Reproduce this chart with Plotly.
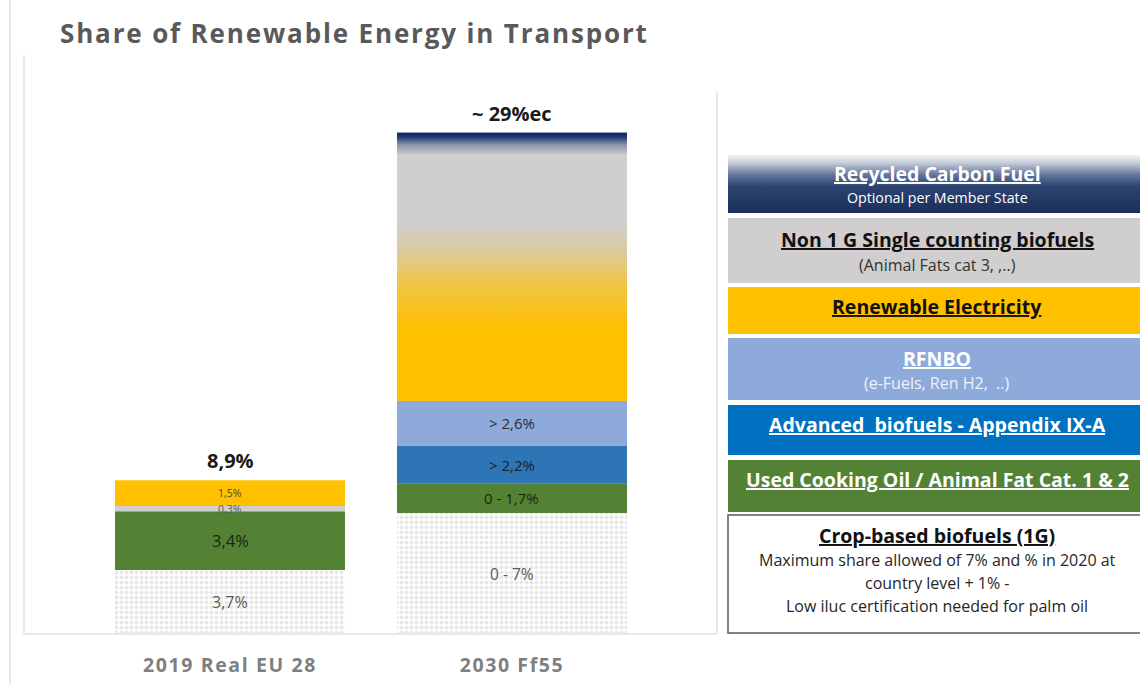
import plotly.graph_objects as go

W, H = 1140, 685
FONT = "Open Sans"

# ---------------- data ----------------
categories = ["2019 Real EU 28", "2030 Ff55"]
crop_based_1g = [3.7, 7.0]
uco_animal_fat = [3.4, 1.7]
advanced_biofuels = [0.0, 2.2]
rfnbo = [0.0, 2.6]
renewable_electricity = [1.5, 7.2]
non_1g_single = [0.3, 7.4]
recycled_carbon_fuel = [0.0, 0.9]

crop_labels = ["3,7%", "0 - 7%"]
uco_labels = ["3,4%", "0 - 1,7%"]
advanced_labels = ["", "> 2,2%"]
rfnbo_labels = ["", "> 2,6%"]
elec_labels = ["1,5%", ""]
non1g_labels = ["0,3%", ""]
rcf_labels = ["", ""]
total_labels = ["8,9%", "~ 29%ec"]

stack_order = [
    ["crop", "uco", "non1g", "elec"],
    ["crop", "uco", "adv", "rfnbo", "elec", "non1g", "rcf"],
]

series = {
    "crop": dict(name="Crop-based biofuels (1G)", values=crop_based_1g, labels=crop_labels,
                 color="#ffffff", fs=[16, 15.5], tc="#595959"),
    "uco": dict(name="Used Cooking Oil / Animal Fat Cat. 1 & 2", values=uco_animal_fat,
                labels=uco_labels, color="#548235", fs=[16.5, 15], tc="#1a2412"),
    "adv": dict(name="Advanced biofuels - Appendix IX-A", values=advanced_biofuels,
                labels=advanced_labels, color="#2e75b6", fs=[15, 15], tc="#18222f"),
    "rfnbo": dict(name="RFNBO", values=rfnbo, labels=rfnbo_labels, color="#8eaadb",
                  fs=[15, 15], tc="#262b35"),
    "elec": dict(name="Renewable Electricity", values=renewable_electricity,
                 labels=elec_labels, color="#ffc000", fs=[10.5, 14], tc="#4a4a2a"),
    "non1g": dict(name="Non 1 G Single counting biofuels", values=non_1g_single,
                  labels=non1g_labels, color="#d0cece", fs=[10.5, 14], tc="#595959"),
    "rcf": dict(name="Recycled Carbon Fuel", values=recycled_carbon_fuel, labels=rcf_labels,
                color="#1f3864", fs=[10, 14], tc="#ffffff"),
}

# ---------------- layout geometry ----------------
BASE_PX, TOP_PX = 634, 55
LEFT_PX, RIGHT_PX = 24, 717
Y_MAX = 33.5
X_RANGE = [-0.7305, 1.727]
BAR_W = 0.8156

# compute bases per bar
bases = {k: [0.0, 0.0] for k in series}
for i, order in enumerate(stack_order):
    cum = 0.0
    for k in order:
        bases[k][i] = cum
        cum += series[k]["values"][i]

fig = go.Figure()
annotations = []

for k, s in series.items():
    xs, ys, bs = [], [], []
    for i in range(len(categories)):
        if k in stack_order[i]:
            xs.append(i)
            ys.append(s["values"][i])
            bs.append(bases[k][i])
    marker = dict(color=s["color"], line=dict(width=0))
    if k == "crop":
        marker["pattern"] = dict(shape=".", fgcolor="#d0d0d0", bgcolor="#ffffff",
                                 size=5, solidity=0.5)
    fig.add_trace(go.Bar(x=xs, y=ys, base=bs, width=BAR_W, name=s["name"],
                         marker=marker, showlegend=False, hoverinfo="skip"))
    for i in range(len(categories)):
        lab = s["labels"][i]
        if lab and k in stack_order[i]:
            annotations.append(dict(
                x=i, y=bases[k][i] + s["values"][i] / 2, xref="x", yref="y",
                text=lab, showarrow=False,
                font=dict(family=FONT, size=s["fs"][i], color=s["tc"])))

# gradient overlay over the upper part of the 2030 bar
g0 = bases["elec"][1]
g1 = bases["rcf"][1] + recycled_carbon_fuel[1]
fig.add_trace(go.Scatter(
    x=[1 - BAR_W / 2, 1 + BAR_W / 2, 1 + BAR_W / 2, 1 - BAR_W / 2, 1 - BAR_W / 2],
    y=[g0, g0, g1, g1, g0], mode="lines", line=dict(width=0), fill="toself",
    fillgradient=dict(type="vertical", start=g0, stop=g1,
                      colorscale=[[0, "#ffc000"], [0.26, "#ffc000"], [0.42, "#f2c43c"],
                                  [0.55, "#dccb9a"], [0.66, "#d0cece"], [0.915, "#d0cece"],
                                  [0.955, "#8a95ae"], [0.985, "#1f3a72"], [1, "#0c2460"]]),
    showlegend=False, hoverinfo="skip"))

# totals
totals = [sum(series[k]["values"][i] for k in stack_order[i]) for i in range(2)]
for i in range(2):
    annotations.append(dict(x=i, y=totals[i], xref="x", yref="y", text="<b>%s</b>" % total_labels[i],
                            showarrow=False, yanchor="bottom", yshift=4,
                            font=dict(family=FONT, size=20, color="#1a1a1a")))

# ---------------- legend panel (pixel coordinates on x2/y2) ----------------
LX0, LX1, LXC = 728, 1148, 937

# recycled carbon fuel gradient box
fig.add_trace(go.Scatter(
    x=[LX0, LX1, LX1, LX0, LX0], y=[155, 155, 213, 213, 155], xaxis="x2", yaxis="y2",
    mode="lines", line=dict(width=0), fill="toself",
    fillgradient=dict(type="vertical", start=155, stop=213,
                      colorscale=[[0, "#f4f5f8"], [0.15, "#c0c7d5"], [0.35, "#60739a"],
                                  [0.55, "#2b4270"], [1, "#1b2f5a"]]),
    showlegend=False, hoverinfo="skip"))

shapes = []
boxes = [
    (218, 283, "#d0cece", None),
    (287, 334, "#ffc000", None),
    (338, 400, "#8eaadb", None),
    (405, 455, "#0070c0", None),
    (460, 512, "#548235", None),
    (515, 633, "#ffffff", "#595959"),
]
for y0, y1, fc, lc in boxes:
    shapes.append(dict(type="rect", xref="x2", yref="y2", x0=LX0, x1=LX1, y0=y0, y1=y1,
                       fillcolor=fc, line=dict(width=1.5 if lc else 0, color=lc or fc),
                       layer="below"))

HF = 19.5
SF = 16
legend_texts = [
    (173, "<b><u>Recycled Carbon Fuel</u></b>", HF, "#ffffff"),
    (197, "Optional per Member State", 14.2, "#ffffff"),
    (239, "<b><u>Non 1 G Single counting biofuels</u></b>", HF, "#111111"),
    (265, "(Animal Fats cat 3, ,..)", SF, "#333333"),
    (306, "<b><u>Renewable Electricity</u></b>", HF, "#111111"),
    (358, "<b><u>RFNBO</u></b>", HF, "#ffffff"),
    (383, "(e-Fuels, Ren H2,  ..)", SF, "#eef2fa"),
    (424, "<b><u>Advanced  biofuels - Appendix IX-A</u></b>", HF, "#ffffff"),
    (479, "<b><u>Used Cooking Oil / Animal Fat Cat. 1 &amp; 2</u></b>", HF, "#ffffff"),
    (535, "<b><u>Crop-based biofuels (1G)</u></b>", HF, "#111111"),
    (560, "Maximum share allowed of 7% and % in 2020 at", SF, "#262626"),
    (583, "country level + 1% -", SF, "#262626"),
    (606, "Low iluc certification needed for palm oil", SF, "#262626"),
]
for y, t, fs, c in legend_texts:
    annotations.append(dict(x=LXC, y=y, xref="x2", yref="y2", text=t, showarrow=False,
                            xanchor="center", yanchor="middle",
                            font=dict(family=FONT, size=fs, color=c)))

# frame lines
for x0, y0, x1, y1 in [(10, 0, 10, 685), (LEFT_PX, TOP_PX, LEFT_PX, BASE_PX),
                       (LEFT_PX, BASE_PX, RIGHT_PX, BASE_PX), (RIGHT_PX, 92, RIGHT_PX, BASE_PX)]:
    shapes.append(dict(type="line", xref="x2", yref="y2", x0=x0, y0=y0, x1=x1, y1=y1,
                       line=dict(color="#e8e8e8", width=2), layer="below"))

# title
annotations.append(dict(x=58, y=33, xref="x2", yref="y2", xanchor="left", yanchor="middle",
                        text="<span style=\"letter-spacing:1.85px\"><b>Share of Renewable Energy in Transport</b></span>",
                        showarrow=False,
                        font=dict(family=FONT, size=26, color="#595959")))

fig.update_layout(
    width=W, height=H, margin=dict(l=0, r=0, t=0, b=0),
    paper_bgcolor="#ffffff", plot_bgcolor="rgba(0,0,0,0)",
    barmode="overlay", showlegend=False,
    xaxis=dict(domain=[LEFT_PX / W, RIGHT_PX / W], range=X_RANGE, tickvals=[0, 1],
               ticktext=["<span style=\"letter-spacing:1.6px\"><b>%s</b></span>" % c for c in categories],
               showgrid=False, zeroline=False,
               showline=False, ticks="", ticklabelstandoff=17, automargin=False,
               tickfont=dict(family=FONT, size=19.5, color="#7f7f7f")),
    yaxis=dict(domain=[(H - BASE_PX) / H, (H - TOP_PX) / H], range=[0, Y_MAX],
               showgrid=False, zeroline=False, showticklabels=False, showline=False,
               automargin=False),
    xaxis2=dict(domain=[0, 1], range=[0, W], visible=False, anchor="y2"),
    yaxis2=dict(domain=[0, 1], range=[H, 0], visible=False, anchor="x2"),
    shapes=shapes, annotations=annotations,
)

fig.write_html("out.html", config={"displayModeBar": False},
               post_script="document.body.style.margin='0';")
